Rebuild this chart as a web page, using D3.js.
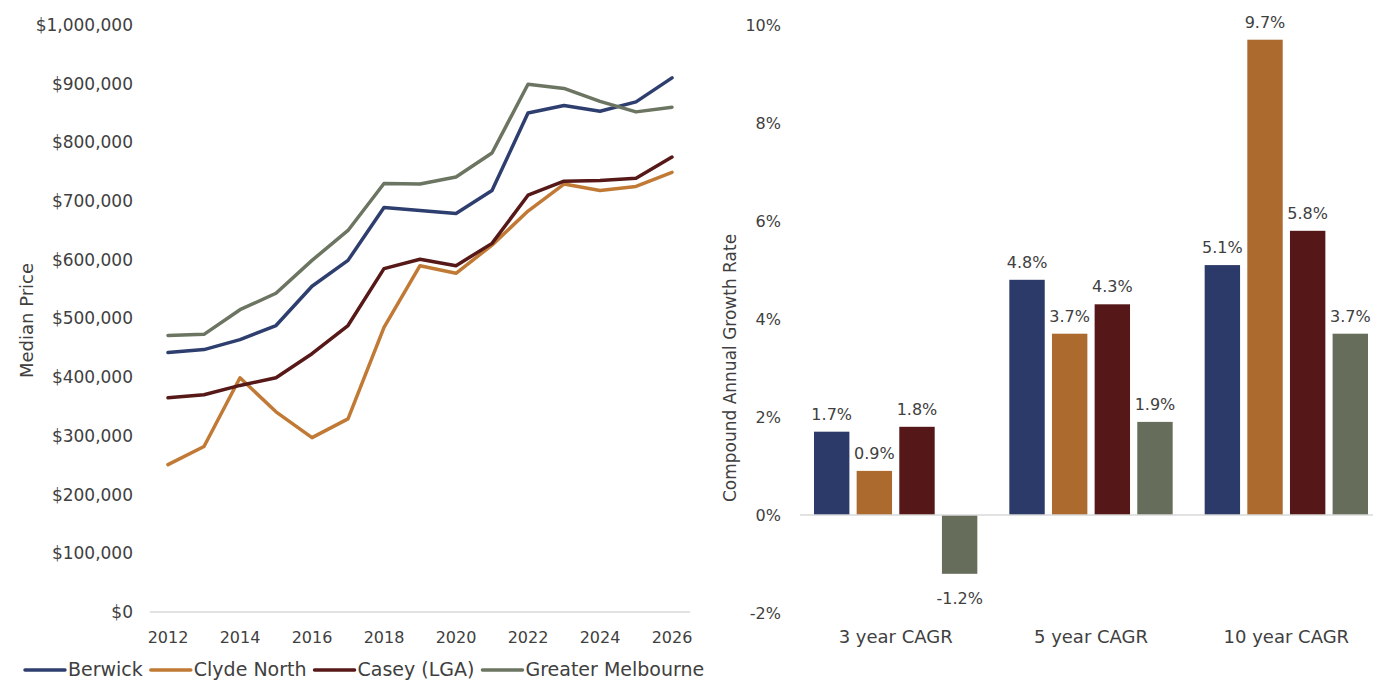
<!DOCTYPE html>
<meta charset="utf-8">
<script src="https://d3js.org/d3.v7.min.js"></script>
<style>
  body { margin: 0; background: #fff; }
  text { font-family: "DejaVu Sans", sans-serif; fill: #404040; }
</style>
<div id="chart"></div>
<script>
// ---- data ----
const years = d3.range(2012, 2027);
const berwick = [442000, 447000, 464000, 488000, 555000, 599000, 689000, 684000, 679000, 718000, 850000, 863000, 853000, 869000, 910000];
const clydeNorth = [251000, 282000, 399000, 341000, 297000, 329000, 485000, 590000, 577000, 625000, 683000, 729000, 718000, 725000, 749000];
const casey = [365000, 370000, 386000, 399000, 440000, 488000, 585000, 601000, 590000, 628000, 710000, 734000, 735000, 739000, 775000];
const greaterMelb = [471000, 473000, 515000, 543000, 599000, 650000, 730000, 729000, 741000, 782000, 899000, 892000, 870000, 852000, 860000];

const seriesNames = ["Berwick", "Clyde North", "Casey (LGA)", "Greater Melbourne"];
const lineColors = ["#2e3f6f", "#c17a36", "#571818", "#6b7561"];
const barColors = ["#2b3a68", "#ad6a2e", "#551717", "#666e5b"];

const cagrCats = ["3 year CAGR", "5 year CAGR", "10 year CAGR"];
const cagrBerwick = [1.7, 4.8, 5.1];
const cagrClyde = [0.9, 3.7, 9.7];
const cagrCasey = [1.8, 4.3, 5.8];
const cagrMelb = [-1.2, 1.9, 3.7];

const priceTicks = d3.range(0, 1000001, 100000);
const yearTicks = [2012, 2014, 2016, 2018, 2020, 2022, 2024, 2026];
const pctTicks = [-2, 0, 2, 4, 6, 8, 10];

// plain hyphen for negatives, like the original
const pct = v => (v < 0 ? "-" : "") + Math.abs(v).toFixed(1) + "%";

const svg = d3.select("#chart").append("svg")
    .attr("width", 1373)
    .attr("height", 681);

// ===== left: line chart =====
const x = d3.scaleLinear().domain([2011.5, 2026.5]).range([150, 690]);
const y = d3.scaleLinear().domain([0, 1000000]).range([612, 25]);

svg.append("line")
    .attr("x1", x.range()[0]).attr("x2", x.range()[1])
    .attr("y1", y(0)).attr("y2", y(0))
    .attr("stroke", "#d9d9d9").attr("stroke-width", 1.5);

svg.append("g")
    .selectAll("text")
    .data(priceTicks)
    .join("text")
    .attr("x", 133)
    .attr("y", d => y(d))
    .attr("dy", "0.35em")
    .attr("text-anchor", "end")
    .attr("font-size", "17px")
    .text(d => "$" + d3.format(",")(d));

svg.append("g")
    .selectAll("text")
    .data(yearTicks)
    .join("text")
    .attr("x", d => x(d))
    .attr("y", 643)
    .attr("text-anchor", "middle")
    .attr("font-size", "16px")
    .text(d => d);

svg.append("text")
    .attr("transform", `translate(33, ${y(500000) + 2}) rotate(-90)`)
    .attr("text-anchor", "middle")
    .attr("font-size", "18px")
    .text("Median Price");

const lineData = [berwick, clydeNorth, casey, greaterMelb];
const line = d3.line()
    .x((d, i) => x(years[i]))
    .y(d => y(d));

svg.append("g")
    .selectAll("path")
    .data(lineData)
    .join("path")
    .attr("d", d => line(d))
    .attr("fill", "none")
    .attr("stroke", (d, i) => lineColors[i])
    .attr("stroke-width", 3.5)
    .attr("stroke-linejoin", "round")
    .attr("stroke-linecap", "round");

// legend
const legend = svg.append("g");
let lx = 25;
seriesNames.forEach((name, i) => {
    legend.append("line")
        .attr("x1", lx).attr("x2", lx + 40)
        .attr("y1", 670).attr("y2", 670)
        .attr("stroke", lineColors[i])
        .attr("stroke-width", 3.5)
        .attr("stroke-linecap", "round");
    const t = legend.append("text")
        .attr("x", lx + 43)
        .attr("y", 676)
        .attr("font-size", "19px")
        .text(name);
    lx += 43 + t.node().getComputedTextLength() + 8;
});

// ===== right: grouped bars =====
const y2 = d3.scaleLinear().domain([-2, 10]).range([613, 25]);
const x0 = d3.scaleBand().domain(cagrCats).range([798, 1384]);
const x1 = d3.scaleBand().domain(seriesNames).range([16, x0.bandwidth() - 16]).paddingInner(0.17);

svg.append("g")
    .selectAll("text")
    .data(pctTicks)
    .join("text")
    .attr("x", 781)
    .attr("y", d => y2(d))
    .attr("dy", "0.35em")
    .attr("text-anchor", "end")
    .attr("font-size", "16px")
    .text(d => (d < 0 ? "-" + Math.abs(d) : d) + "%");

svg.append("text")
    .attr("transform", `translate(736, ${y2(3)}) rotate(-90)`)
    .attr("text-anchor", "middle")
    .attr("font-size", "17px")
    .text("Compound Annual Growth Rate");

const cagrData = [cagrBerwick, cagrClyde, cagrCasey, cagrMelb];
const barRows = [];
cagrCats.forEach((c, ci) => {
    seriesNames.forEach((s, si) => {
        barRows.push({cat: c, series: s, idx: si, value: cagrData[si][ci]});
    });
});

svg.append("g")
    .selectAll("rect")
    .data(barRows)
    .join("rect")
    .attr("x", d => x0(d.cat) + x1(d.series))
    .attr("y", d => y2(Math.max(0, d.value)))
    .attr("width", x1.bandwidth())
    .attr("height", d => Math.abs(y2(d.value) - y2(0)))
    .attr("fill", d => barColors[d.idx]);

svg.append("line")
    .attr("x1", 800).attr("x2", 1373)
    .attr("y1", y2(0)).attr("y2", y2(0))
    .attr("stroke", "#d9d9d9").attr("stroke-width", 1.5);

svg.append("g")
    .selectAll("text")
    .data(barRows)
    .join("text")
    .attr("x", d => x0(d.cat) + x1(d.series) + x1.bandwidth() / 2)
    .attr("y", d => d.value >= 0 ? y2(d.value) - 12 : y2(d.value) + 30)
    .attr("text-anchor", "middle")
    .attr("font-size", "16px")
    .text(d => pct(d.value));

svg.append("g")
    .selectAll("text")
    .data(cagrCats)
    .join("text")
    .attr("x", d => x0(d) + x0.bandwidth() / 2)
    .attr("y", 643)
    .attr("text-anchor", "middle")
    .attr("font-size", "18px")
    .text(d => d);
</script>
